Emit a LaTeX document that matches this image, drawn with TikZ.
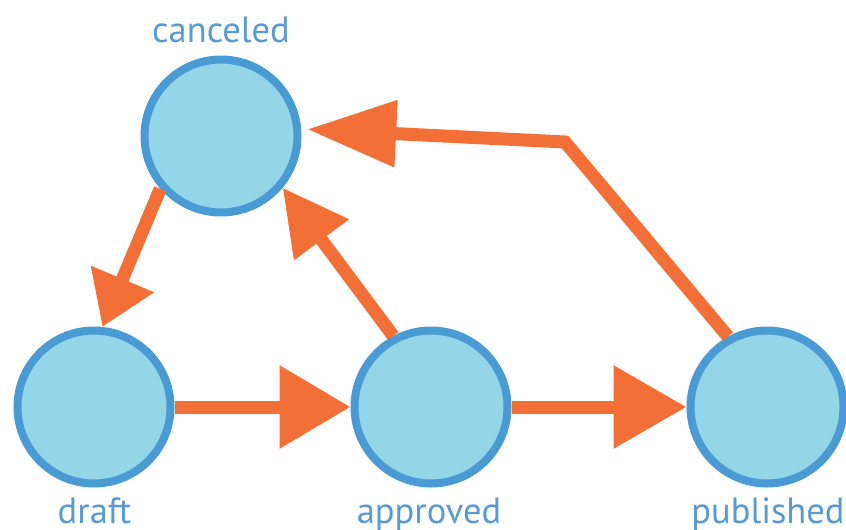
\documentclass[tikz,border=0pt]{standalone}
\usepackage{fontspec}
\setmainfont{PT Sans}
\usetikzlibrary{arrows.meta}
\definecolor{statefill}{HTML}{94D5E8}
\definecolor{stateline}{HTML}{4A9AD4}
\definecolor{flow}{HTML}{F27038}
\definecolor{labelblue}{HTML}{5A9AD2}
\tikzset{
  state/.style={circle, draw=stateline, fill=statefill, line width=8pt, minimum size=153pt, inner sep=0pt},
  statelabel/.style={text=labelblue, font=\fontsize{36.5}{40}\selectfont, anchor=base, inner sep=0pt},
  flowline/.style={draw=flow, line width=13pt, line join=miter},
}
\begin{document}
\begin{tikzpicture}[x=1pt, y=-1pt]
  \useasboundingbox (0,0) rectangle (846,530);

  % states
  \node[state] (canceled)  at (221,136) {};
  \node[state] (draft)     at (94,407)  {};
  \node[state] (approved)  at (431,407) {};
  \node[state] (published) at (767,407) {};

  % state names
  \node[statelabel] (lcanceled)  at (221,42)  {canceled};
  \node[statelabel] (ldraft)     at (94.5,523) {draft};
  \node[statelabel] (lapproved)  at (429,523) {approved};
  \node[statelabel] (lpublished) at (768,523) {published};

  % transitions
  \coordinate (bend) at (565,142);
  \draw[flowline, -{Triangle[length=71pt,width=80pt]}] (draft.east) -- (approved.west);
  \draw[flowline, -{Triangle[length=73pt,width=80pt]}] (approved.east) -- (published.west);
  \draw[flowline, -{Triangle[length=52pt,width=65pt]}] (canceled.221) -- (draft.84);
  \draw[flowline, -{Triangle[length=65pt,width=65pt]}] (approved.118) -- (canceled.320);
  \draw[flowline, shorten >=6pt, -{Triangle[length=89pt,width=64pt]}] (published.119) -- (bend) -- (canceled.5);
\end{tikzpicture}
\end{document}
